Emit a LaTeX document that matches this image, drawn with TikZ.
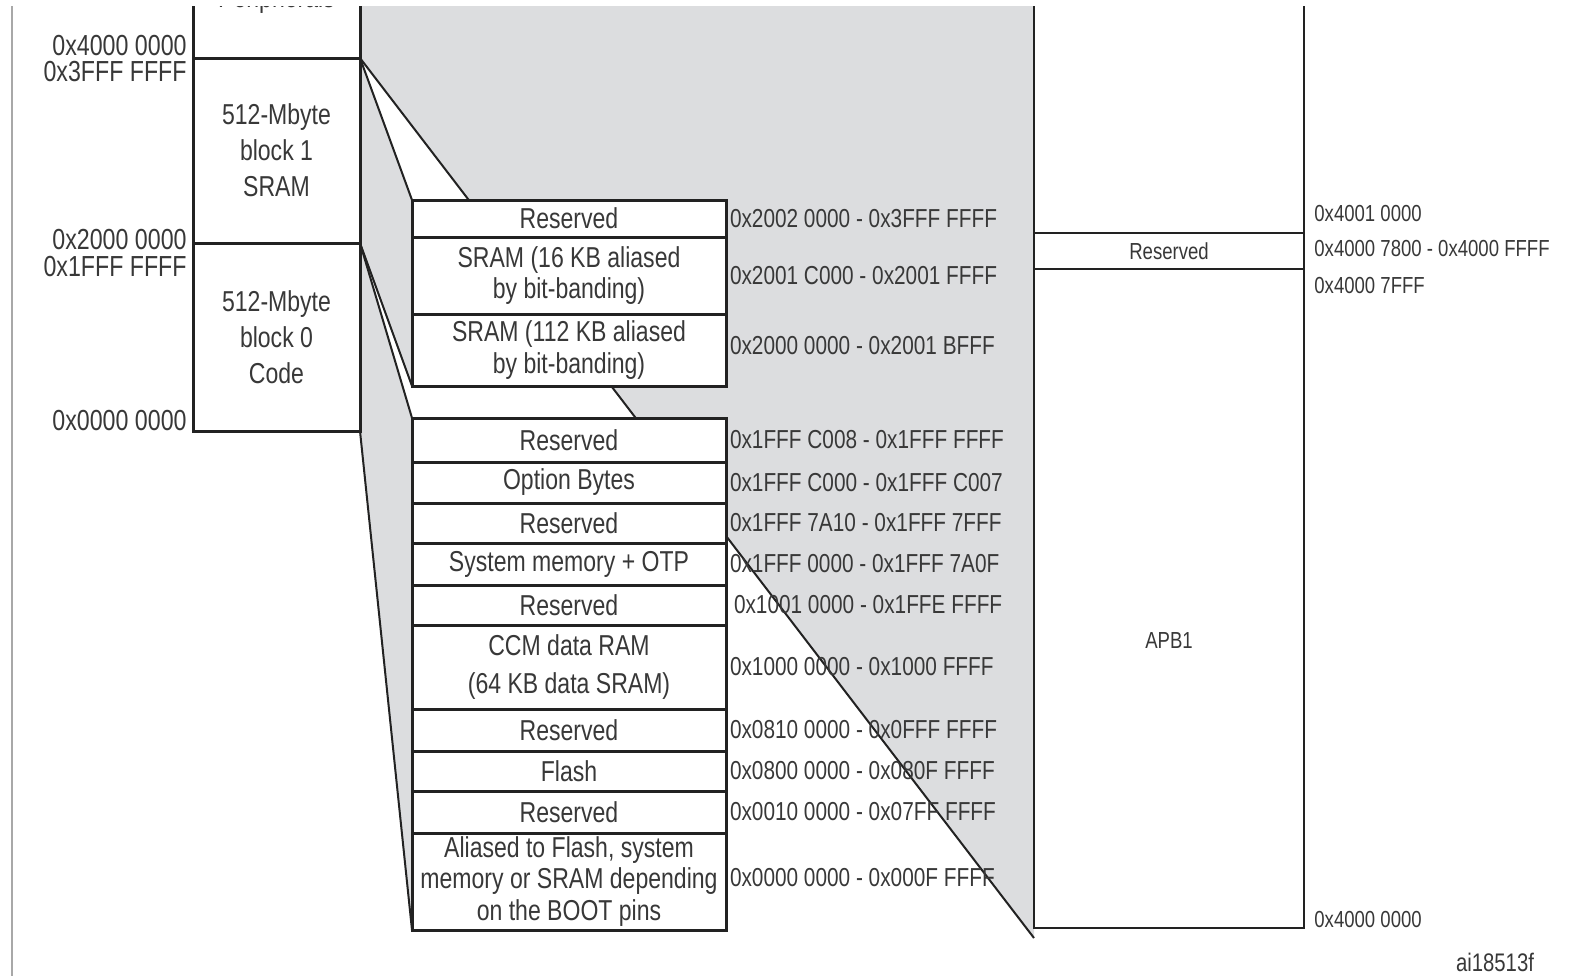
\documentclass[tikz,border=0pt]{standalone}
\usepackage{fontspec}
\setmainfont{Liberation Sans}[FakeStretch=0.8]
\usetikzlibrary{positioning, backgrounds}
\definecolor{mapGrey}{HTML}{DCDDDF}
\definecolor{lineDark}{HTML}{222222}
\definecolor{textDark}{HTML}{383838}
\definecolor{frameGrey}{HTML}{A8A8A8}

\begin{document}
\begin{tikzpicture}[x=0.5pt, y=-0.5pt,
    blk/.style={draw=lineDark, line width=1.5pt, fill=white, outer sep=0pt, inner sep=1pt,
                minimum width=83.5pt, align=center, text=textDark,
                font=\fontsize{14.4}{18}\selectfont},
    membox/.style={draw=lineDark, line width=1.5pt, fill=white, outer sep=0pt, inner sep=1pt,
                minimum width=157pt, align=center, text=textDark,
                font=\fontsize{14.4}{15.6}\selectfont},
    apbbox/.style={draw=lineDark, line width=1.3pt, fill=white, outer sep=0pt, inner sep=1pt,
                minimum width=135pt, text=textDark, font=\fontsize{11.6}{13}\selectfont},
    addr/.style={inner sep=0pt, outer sep=0pt, text=textDark, font=\fontsize{13}{15}\selectfont},
    leftaddr/.style={anchor=east, inner sep=0pt, text=textDark, font=\fontsize{14.5}{16}\selectfont},
    rightaddr/.style={anchor=west, inner sep=0pt, text=textDark, font=\fontsize{11.6}{13}\selectfont},
    funnel/.style={draw=lineDark, line width=1pt}]

  \useasboundingbox (0,0) rectangle (1589,976);
  \clip (0,6) rectangle (1589,976);
  \coordinate (topcut) at (0,6);

  % frame
  \draw[frameGrey, line width=1pt] (12,6) -- (12,976);

  % 512-Mbyte blocks
  \node[blk, minimum height=104pt] (periph) at (276.5,-46) {};
  \node[blk, minimum height=92.5pt, below=0pt of periph] (blk1) {512-Mbyte\\block 1\\SRAM};
  \node[blk, minimum height=94pt, below=0pt of blk1] (blk0) {512-Mbyte\\block 0\\Code};
  \node[text=textDark, font=\fontsize{14.4}{18}\selectfont] (periphlbl) at (276.5,0) {Peripherals};

  \node[leftaddr] (l4000) at (187,46) {0x4000 0000};
  \node[leftaddr] (l3fff) at (187,72) {0x3FFF FFFF};
  \node[leftaddr] (l2000) at (187,240) {0x2000 0000};
  \node[leftaddr] (l1fff) at (187,267) {0x1FFF FFFF};
  \node[leftaddr] (l0000) at (187,421) {0x0000 0000};

  % SRAM region
  \node[membox, minimum height=18.5pt] (sr3) at (569,218.5) {Reserved};
  \node[membox, minimum height=38.5pt, below=0pt of sr3] (sr2) {SRAM (16 KB aliased\\by bit-banding)};
  \node[membox, minimum height=36pt, below=0pt of sr2] (sr1) {SRAM (112 KB aliased\\by bit-banding)};

  % code region
  \node[membox, minimum height=22pt] (c10) at (569,440) {Reserved};
  \node[membox, minimum height=20.5pt, below=0pt of c10] (c9) {Option Bytes};
  \node[membox, minimum height=20pt, below=0pt of c9] (c8) {Reserved};
  \node[membox, minimum height=21pt, below=0pt of c8] (c7) {System memory + OTP};
  \node[membox, minimum height=20pt, below=0pt of c7] (c6) {Reserved};
  \node[membox, minimum height=42pt, below=0pt of c6] (c5) {CCM data RAM\\[3pt](64 KB data SRAM)};
  \node[membox, minimum height=21pt, below=0pt of c5] (c4) {Reserved};
  \node[membox, minimum height=20pt, below=0pt of c4] (c3) {Flash};
  \node[membox, minimum height=21pt, below=0pt of c3] (c2) {Reserved};
  \node[membox, minimum height=48.5pt, below=0pt of c2] (c1)
    {Aliased to Flash, system\\memory or SRAM depending\\on the BOOT pins};

  \node[addr, right=2pt of sr3] (asr3) {0x2002 0000 - 0x3FFF FFFF};
  \node[addr, right=2pt of sr2] (asr2) {0x2001 C000 - 0x2001 FFFF};
  \node[addr, right=2pt of sr1, yshift=2pt] (asr1) {0x2000 0000 - 0x2001 BFFF};
  \node[addr, right=2pt of c10] (ac10) {0x1FFF C008 - 0x1FFF FFFF};
  \node[addr, right=2pt of c9] (ac9) {0x1FFF C000 - 0x1FFF C007};
  \node[addr, right=2pt of c8] (ac8) {0x1FFF 7A10 - 0x1FFF 7FFF};
  \node[addr, right=2pt of c7] (ac7) {0x1FFF 0000 - 0x1FFF 7A0F};
  \node[addr, right=4pt of c6] (ac6) {0x1001 0000 - 0x1FFE FFFF};
  \node[addr, right=2pt of c5] (ac5) {0x1000 0000 - 0x1000 FFFF};
  \node[addr, right=2pt of c4] (ac4) {0x0810 0000 - 0x0FFF FFFF};
  \node[addr, right=2pt of c3] (ac3) {0x0800 0000 - 0x080F FFFF};
  \node[addr, right=2pt of c2] (ac2) {0x0010 0000 - 0x07FF FFFF};
  \node[addr, right=2pt of c1, yshift=2pt] (ac1) {0x0000 0000 - 0x000F FFFF};

  % APB1
  \node[apbbox, minimum height=191.5pt] (apbtop) at (1169,41.5) {};
  \node[apbbox, minimum height=18pt, below=0pt of apbtop] (apbres) {Reserved};
  \node[apbbox, minimum height=329.5pt, below=0pt of apbres] (apb1) {};
  \node[text=textDark, font=\fontsize{11.6}{13}\selectfont] (apb1lbl) at ([yshift=-21pt]apb1.center) {APB1};
  \coordinate (apbend) at ([yshift=-5pt]apb1.south west);

  \node[rightaddr] (r40010) at (1314,214) {0x4001 0000};
  \node[rightaddr] (r47800) at (1314,249) {0x4000 7800 - 0x4000 FFFF};
  \node[rightaddr] (r47fff) at (1314,286) {0x4000 7FFF};
  \node[rightaddr] (r40000) at (1314,919) {0x4000 0000};

  \node[text=textDark, font=\fontsize{12.7}{14}\selectfont] (figid) at (1495,962) {ai18513f};

  % zoom funnels
  \begin{scope}[on background layer]
    \fill[mapGrey] (blk1.north east) -- (blk1.north east |- topcut) -- (apbtop.west |- topcut)
      -- (apbend) -- cycle;
    \fill[mapGrey] (blk1.north east) -- (sr3.north west) -- (sr1.south west) -- (blk1.south east) -- cycle;
    \fill[mapGrey] (blk0.north east) -- (c10.north west) -- (c1.south west) -- (blk0.south east) -- cycle;
    \draw[funnel] (blk1.north east) -- (apbend);
  \end{scope}
  \draw[funnel] (blk1.north east) -- (sr3.north west);
  \draw[funnel] (blk1.south east) -- (sr1.south west);
  \draw[funnel] (blk0.north east) -- (c10.north west);
  \draw[funnel] (blk0.south east) -- (c1.south west);
\end{tikzpicture}
\end{document}
